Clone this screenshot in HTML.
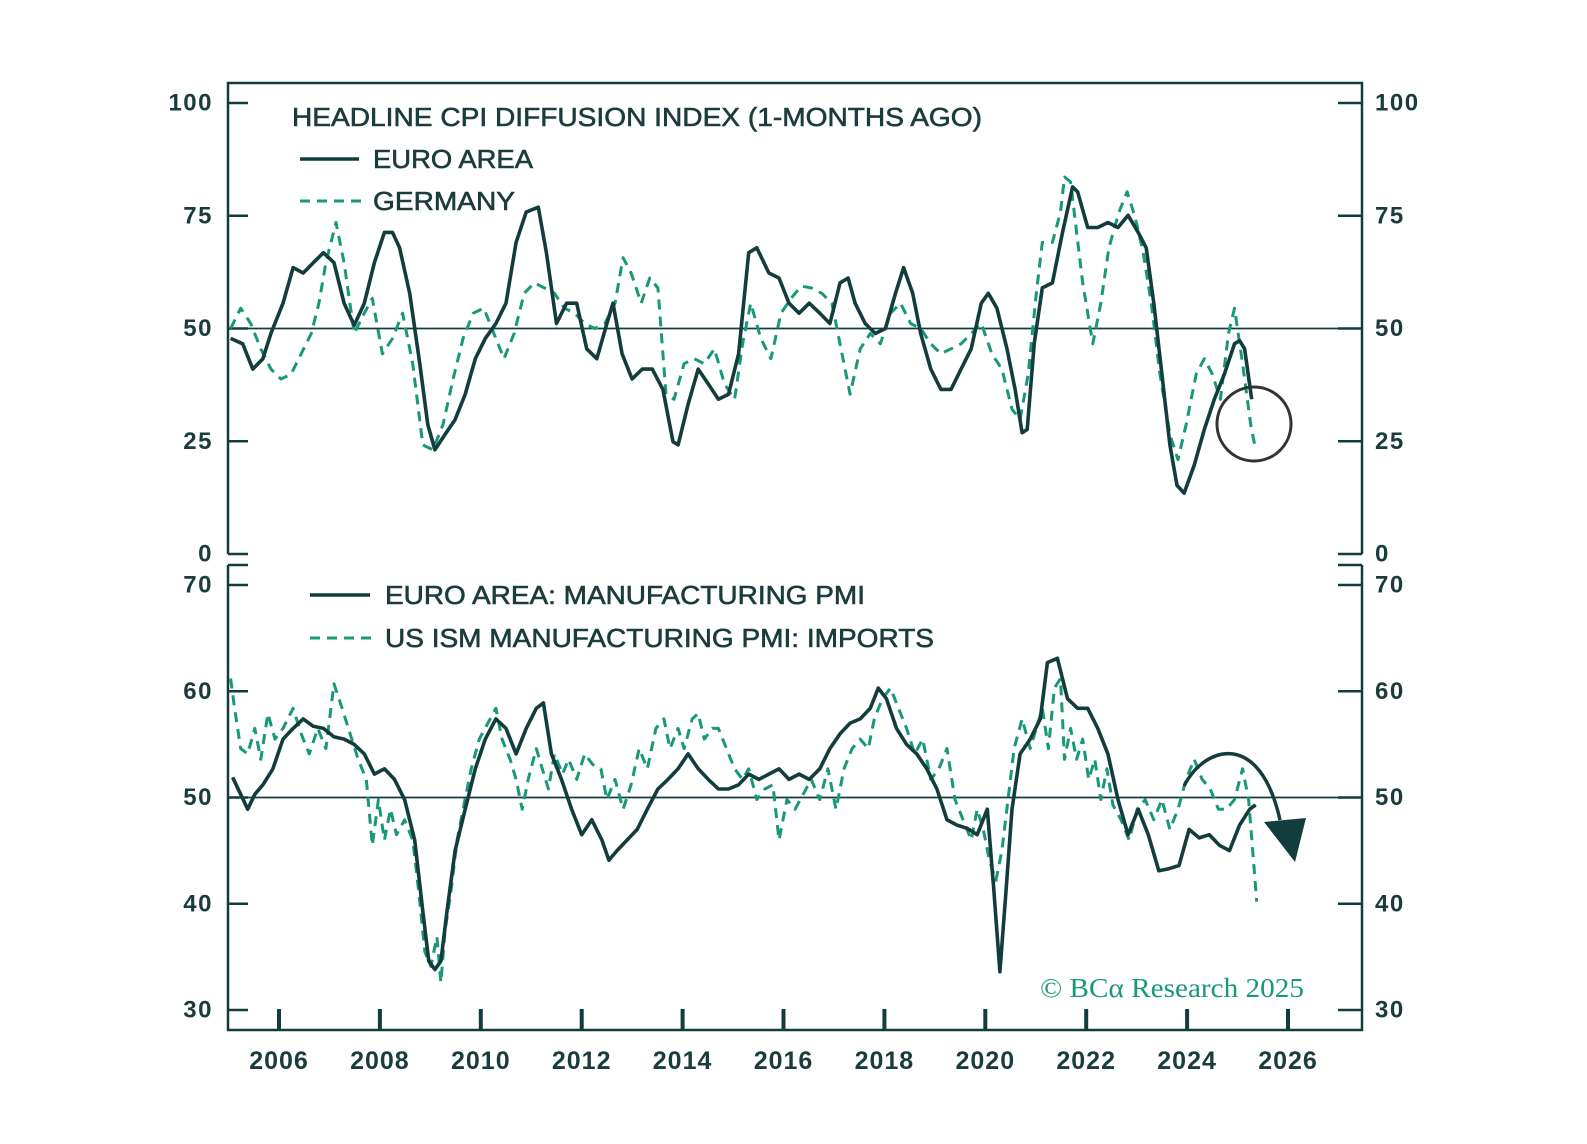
<!DOCTYPE html>
<html><head><meta charset="utf-8"><style>
html,body{margin:0;padding:0;background:#fff;}
svg{display:block;font-family:"Liberation Sans",sans-serif;}
</style></head><body>
<svg width="1587" height="1144" viewBox="0 0 1587 1144">
<g id="axes"></g><g id="marks"></g><g id="labels"></g>
</svg>
<script>
const xTickYears=[2006,2008,2010,2012,2014,2016,2018,2020,2022,2024,2026];
const topTicks=[0,25,50,75,100];
const botTicks=[30,40,50,60,70];
const euroCpiT=[2005.04,2005.28,2005.48,2005.68,2005.84,2006.08,2006.28,2006.48,2006.68,2006.88,2007.09,2007.29,2007.49,2007.69,2007.89,2008.09,2008.25,2008.39,2008.59,2008.79,2008.95,2009.09,2009.29,2009.49,2009.69,2009.89,2010.09,2010.30,2010.50,2010.70,2010.90,2011.14,2011.30,2011.50,2011.70,2011.90,2012.10,2012.30,2012.50,2012.62,2012.80,2013.00,2013.20,2013.40,2013.61,2013.81,2013.91,2014.11,2014.31,2014.51,2014.71,2014.91,2015.11,2015.31,2015.47,2015.71,2015.91,2016.11,2016.31,2016.51,2016.72,2016.92,2017.12,2017.28,2017.42,2017.62,2017.82,2018.02,2018.22,2018.38,2018.56,2018.72,2018.92,2019.12,2019.32,2019.52,2019.72,2019.92,2020.06,2020.23,2020.43,2020.59,2020.73,2020.83,2020.97,2021.13,2021.33,2021.53,2021.73,2021.83,2022.03,2022.23,2022.43,2022.63,2022.83,2023.03,2023.19,2023.34,2023.50,2023.66,2023.80,2023.94,2024.14,2024.34,2024.54,2024.74,2024.94,2025.04,2025.14,2025.28];
const euroCpiV=[47.8,46.6,41.0,43.3,48.9,55.6,63.5,62.3,64.6,66.8,64.6,55.6,50.7,55.6,64.6,71.3,71.3,67.9,57.8,42.2,28.7,23.1,26.5,29.8,35.4,43.3,47.8,51.1,55.6,69.1,75.8,76.9,66.8,51.1,55.6,55.6,45.5,43.3,51.1,55.6,44.4,38.8,41.0,41.0,36.5,24.9,24.2,33.2,41.0,37.7,34.3,35.4,44.4,66.8,67.9,62.3,61.2,55.6,53.4,55.6,53.4,51.1,60.1,61.2,55.6,51.1,48.9,50.0,57.8,63.5,57.8,48.9,41.0,36.5,36.5,41.0,45.5,55.6,57.8,54.5,45.5,36.5,26.9,27.6,46.6,59.0,60.1,71.3,81.4,80.3,72.4,72.4,73.5,72.4,75.1,71.3,67.9,55.6,39.9,24.2,15.2,13.5,19.7,27.6,34.3,39.9,46.6,47.3,45.5,34.3];
const gerCpiT=[2005.04,2005.24,2005.44,2005.64,2005.84,2006.04,2006.24,2006.44,2006.64,2006.79,2006.93,2007.13,2007.29,2007.49,2007.69,2007.85,2008.05,2008.25,2008.45,2008.65,2008.85,2009.05,2009.25,2009.45,2009.65,2009.85,2010.06,2010.26,2010.46,2010.66,2010.86,2011.06,2011.26,2011.46,2011.66,2011.86,2012.06,2012.26,2012.46,2012.66,2012.82,2012.98,2013.18,2013.35,2013.51,2013.67,2013.83,2014.03,2014.23,2014.43,2014.63,2014.83,2015.03,2015.19,2015.35,2015.55,2015.75,2015.95,2016.15,2016.35,2016.55,2016.76,2016.96,2017.12,2017.32,2017.52,2017.72,2017.92,2018.12,2018.32,2018.52,2018.72,2018.92,2019.12,2019.32,2019.52,2019.72,2019.92,2020.13,2020.33,2020.53,2020.69,2020.85,2021.01,2021.13,2021.33,2021.49,2021.57,2021.69,2021.81,2021.93,2022.13,2022.29,2022.45,2022.65,2022.81,2022.97,2023.13,2023.29,2023.46,2023.66,2023.82,2023.98,2024.18,2024.34,2024.50,2024.66,2024.82,2024.94,2025.10,2025.26,2025.34];
const gerCpiV=[50.0,54.5,51.1,45.5,41.0,38.8,39.9,44.4,48.9,55.6,64.6,73.5,64.6,48.9,53.4,56.7,44.4,47.8,53.4,42.2,24.2,23.1,28.7,38.8,47.8,53.4,54.5,48.9,43.3,48.9,57.8,60.1,59.0,57.8,54.5,53.4,51.1,50.0,51.1,55.6,65.7,62.3,55.6,61.2,59.0,35.4,34.3,42.2,43.3,42.2,45.5,37.7,34.3,46.6,55.6,47.8,43.3,53.4,56.7,59.4,59.0,57.8,55.6,46.6,35.4,45.5,48.9,46.6,53.4,55.6,51.1,50.0,46.6,44.4,45.5,46.6,48.9,51.1,44.4,41.0,32.1,29.8,39.9,57.8,69.1,69.1,75.8,83.6,82.5,71.3,60.1,46.6,55.6,67.9,75.8,80.3,74.7,66.8,55.6,39.9,26.5,20.9,28.7,39.9,43.3,39.9,34.3,48.9,54.5,42.2,28.7,24.2];
const euroPmiT=[2005.08,2005.24,2005.38,2005.52,2005.68,2005.88,2006.08,2006.28,2006.48,2006.68,2006.88,2007.09,2007.29,2007.49,2007.69,2007.89,2008.09,2008.29,2008.49,2008.69,2008.85,2008.97,2009.09,2009.21,2009.33,2009.49,2009.69,2009.89,2010.09,2010.30,2010.50,2010.70,2010.90,2011.10,2011.24,2011.40,2011.60,2011.80,2012.00,2012.20,2012.40,2012.54,2012.70,2012.90,2013.10,2013.30,2013.51,2013.71,2013.91,2014.11,2014.31,2014.51,2014.71,2014.91,2015.11,2015.31,2015.51,2015.71,2015.91,2016.11,2016.31,2016.51,2016.72,2016.92,2017.12,2017.32,2017.52,2017.72,2017.88,2018.04,2018.24,2018.44,2018.64,2018.84,2019.04,2019.24,2019.44,2019.64,2019.84,2020.04,2020.17,2020.29,2020.41,2020.53,2020.69,2020.89,2021.09,2021.23,2021.43,2021.63,2021.83,2022.03,2022.23,2022.43,2022.63,2022.83,2023.03,2023.23,2023.44,2023.64,2023.84,2024.04,2024.24,2024.44,2024.64,2024.84,2025.04,2025.24,2025.36];
const euroPmiV=[51.9,50.3,48.9,50.3,51.2,52.7,55.5,56.5,57.4,56.7,56.5,55.7,55.5,55.0,54.1,52.2,52.7,51.7,49.8,46.0,39.3,34.6,33.8,34.6,39.3,45.0,48.9,52.7,55.5,57.4,56.5,54.1,56.5,58.4,58.9,54.1,51.7,48.9,46.5,47.9,46.0,44.1,45.0,46.0,47.0,48.9,50.8,51.7,52.7,54.1,52.7,51.7,50.8,50.8,51.2,52.2,51.7,52.2,52.7,51.7,52.2,51.7,52.7,54.6,56.0,57.0,57.4,58.4,60.3,59.3,56.5,55.0,54.1,52.7,50.8,47.9,47.4,47.1,46.5,48.9,41.2,33.6,41.2,48.9,54.1,55.5,57.4,62.7,63.1,59.3,58.4,58.4,56.5,54.1,49.8,46.5,48.9,46.5,43.1,43.3,43.6,47.0,46.2,46.5,45.5,45.0,47.4,48.9,49.3];
const usImpT=[2005.04,2005.12,2005.24,2005.38,2005.52,2005.64,2005.78,2005.92,2006.08,2006.28,2006.44,2006.60,2006.77,2006.93,2007.09,2007.25,2007.41,2007.57,2007.73,2007.85,2007.97,2008.09,2008.21,2008.33,2008.49,2008.65,2008.77,2008.89,2009.01,2009.13,2009.21,2009.29,2009.41,2009.53,2009.65,2009.81,2009.97,2010.14,2010.30,2010.42,2010.58,2010.70,2010.82,2010.94,2011.10,2011.22,2011.34,2011.46,2011.62,2011.74,2011.90,2012.06,2012.22,2012.38,2012.50,2012.66,2012.82,2012.98,2013.14,2013.30,2013.47,2013.63,2013.75,2013.91,2014.03,2014.19,2014.31,2014.43,2014.59,2014.71,2014.87,2015.03,2015.19,2015.31,2015.47,2015.63,2015.79,2015.91,2016.07,2016.23,2016.39,2016.55,2016.72,2016.88,2017.04,2017.20,2017.36,2017.52,2017.68,2017.80,2017.96,2018.12,2018.28,2018.44,2018.60,2018.76,2018.92,2019.08,2019.24,2019.40,2019.56,2019.72,2019.84,2019.96,2020.08,2020.21,2020.33,2020.45,2020.57,2020.73,2020.89,2021.01,2021.13,2021.25,2021.37,2021.49,2021.57,2021.69,2021.81,2021.93,2022.05,2022.17,2022.29,2022.41,2022.53,2022.69,2022.85,2023.01,2023.17,2023.34,2023.50,2023.66,2023.82,2023.98,2024.14,2024.30,2024.46,2024.62,2024.78,2024.94,2025.10,2025.22,2025.30,2025.38];
const usImpV=[61.2,58.4,54.6,54.1,56.5,53.6,57.9,55.5,56.5,58.4,56.0,54.1,56.5,54.6,60.7,58.4,56.0,53.6,51.7,45.5,49.8,46.0,48.9,46.5,47.9,46.0,41.2,35.5,34.1,36.9,32.6,37.4,41.2,46.0,48.9,52.7,55.5,57.0,58.4,55.5,53.6,51.7,48.9,51.7,54.6,52.7,50.8,54.1,52.2,53.6,51.7,54.1,53.1,52.7,49.8,51.7,48.9,51.2,54.6,52.7,56.5,57.4,54.6,56.5,54.6,57.4,57.9,55.5,56.5,56.5,54.6,52.7,51.7,52.7,49.8,50.8,51.2,46.0,49.8,48.9,50.3,51.7,49.8,52.7,48.9,52.7,54.6,55.5,54.6,57.4,59.3,60.3,58.4,56.5,54.1,55.5,51.7,52.7,54.6,49.8,47.9,46.0,48.9,47.0,44.1,42.2,45.0,49.8,54.6,57.4,54.6,56.5,58.4,54.6,60.3,61.2,53.6,56.5,53.6,55.5,51.7,53.6,49.8,52.7,49.3,47.9,46.0,48.9,49.8,47.9,49.8,47.0,48.9,51.7,53.6,51.7,50.8,48.9,48.9,49.8,52.7,49.8,45.0,40.2];

const NS='http://www.w3.org/2000/svg';
const L=228,R=1362,TT=83,TB=554,BT=565,BB=1030;
const DARK='#133d3d',GREEN='#18987a',TXT='#1b3c3c';
function xs(y){return 279+(y-2006)*(1288-279)/20;}
function yTop(v){return 554-(v)*(554-103)/100;}
function yBot(v){return 1010-(v-30)*(1010-585)/40;}
function mk(tag,attrs,parent){const e=document.createElementNS(NS,tag);for(const k in attrs)e.setAttribute(k,attrs[k]);parent.appendChild(e);return e;}
const axes=document.getElementById('axes'),marks=document.getElementById('marks'),labels=document.getElementById('labels');
const st={stroke:DARK,'stroke-width':2.5,fill:'none'};
let f1=mk('path',Object.assign({d:`M${L} ${TB}V${TT}H${R}V${TB}`},st),axes);


let f2=mk('path',Object.assign({d:`M${L} ${BT}V${BB}H${R}V${BT}M${L} ${BT}h20M${R} ${BT}h-24`},st),axes);


function tickLabel(x,y,txt,anchor,name){const t=mk('text',{x:x,y:y,'text-anchor':anchor,'font-size':24,'font-weight':'bold','letter-spacing':1.5,fill:TXT,'dominant-baseline':'central'},labels);t.textContent=txt;

}
topTicks.forEach(v=>{const y=yTop(v);mk('path',Object.assign({d:`M${L} ${y}h20M${R} ${y}h-24`},st),axes);
tickLabel(213,y,String(v),'end','left-y-tick-top');tickLabel(1375,y,String(v),'start','right-y-tick-top');});
botTicks.forEach(v=>{const y=yBot(v);mk('path',Object.assign({d:`M${L} ${y}h20M${R} ${y}h-24`},st),axes);
tickLabel(213,y,String(v),'end','left-y-tick-bottom');tickLabel(1375,y,String(v),'start','right-y-tick-bottom');});
xTickYears.forEach(yr=>{const x=xs(yr);mk('path',{d:`M${x} ${BB}v-21`,stroke:DARK,'stroke-width':4},axes);
const t=mk('text',{x:x,y:1061,'text-anchor':'middle','font-size':25,'font-weight':'bold','letter-spacing':1,fill:TXT,'dominant-baseline':'central'},labels);t.textContent=yr;

});
let r1=mk('line',{x1:L,x2:R,y1:yTop(50),y2:yTop(50),stroke:DARK,'stroke-width':1.8},axes);


let r2=mk('line',{x1:L,x2:R,y1:yBot(50),y2:yBot(50),stroke:DARK,'stroke-width':1.8},axes);


function series(T,V,yf,color,dash,name){let d='';T.forEach((t,i)=>{d+=(i?'L':'M')+xs(t).toFixed(1)+' '+yf(V[i]).toFixed(1);});
const p=mk('path',{d:d,fill:'none',stroke:color,'stroke-width':dash?3:3.6,'stroke-linejoin':'round','stroke-dasharray':dash?'10 7':'none'},marks);

}
series(gerCpiT,gerCpiV,yTop,GREEN,true,'germany-cpi-line');
series(euroCpiT,euroCpiV,yTop,DARK,false,'euro-area-cpi-line');
series(usImpT,usImpV,yBot,GREEN,true,'us-ism-imports-line');
series(euroPmiT,euroPmiV,yBot,DARK,false,'euro-area-pmi-line');
</script>
<svg style="position:absolute;left:0;top:0" width="1587" height="1144">
<g font-family="Liberation Sans, sans-serif" fill="#1b3c3c" font-size="26" stroke="#1b3c3c" stroke-width="0.6">
<text x="292" y="126" textLength="690" lengthAdjust="spacingAndGlyphs">HEADLINE CPI DIFFUSION INDEX (1-MONTHS AGO)</text>
<text x="373" y="168" textLength="160" lengthAdjust="spacingAndGlyphs">EURO AREA</text>
<text x="373" y="210" textLength="142" lengthAdjust="spacingAndGlyphs">GERMANY</text>
<text x="385" y="604" textLength="480" lengthAdjust="spacingAndGlyphs">EURO AREA: MANUFACTURING PMI</text>
<text x="385" y="647" textLength="549" lengthAdjust="spacingAndGlyphs">US ISM MANUFACTURING PMI: IMPORTS</text>
</g>
<line x1="300" y1="159" x2="359" y2="159" stroke="#133d3d" stroke-width="3.6"/>
<line x1="300" y1="201" x2="362" y2="201" stroke="#18987a" stroke-width="3" stroke-dasharray="10 7"/>
<line x1="310" y1="595" x2="370" y2="595" stroke="#133d3d" stroke-width="3.6"/>
<line x1="310" y1="638" x2="372" y2="638" stroke="#18987a" stroke-width="3" stroke-dasharray="10 7"/>
<text x="1040" y="997" font-family="Liberation Serif, serif" font-size="27" fill="#18987a" textLength="264" lengthAdjust="spacingAndGlyphs">© BCα Research 2025</text>
<circle cx="1254" cy="424" r="37" fill="none" stroke="#333" stroke-width="3"/>
<path d="M1184 786 C1205 745 1260 730 1280 820" fill="none" stroke="#133d3d" stroke-width="3.5"/>
<polygon points="1264,822 1306,818 1295,862" fill="#133d3d"/>
</svg>
</body></html>
